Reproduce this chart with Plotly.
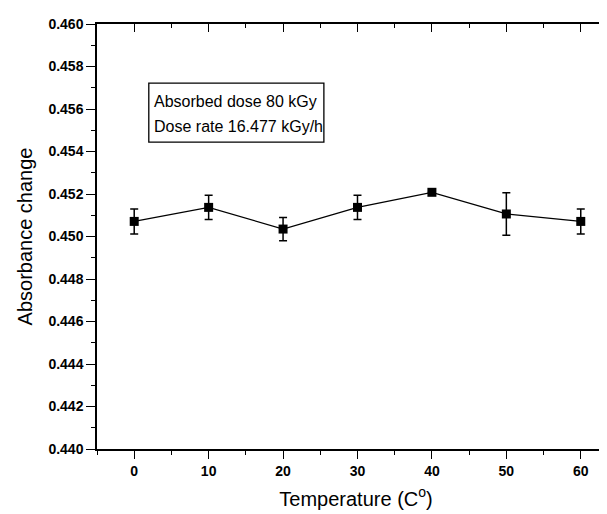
import plotly.graph_objects as go

temperature = [0, 10, 20, 30, 40, 50, 60]
absorbance = [0.45071, 0.45137, 0.45035, 0.45137, 0.45208, 0.45106, 0.45071]
abs_error = [0.00059, 0.00057, 0.00055, 0.00057, 0.0, 0.00100, 0.00059]

info_lines = ['Absorbed dose 80 kGy', 'Dose rate 16.477 kGy/h']

x_range = [-5, 64.6]
y_range = [0.440, 0.460]

fig = go.Figure()
fig.add_trace(go.Scatter(
    x=temperature,
    y=absorbance,
    mode='lines+markers',
    line=dict(color='black', width=1.3),
    marker=dict(symbol='square', size=9, color='black'),
    error_y=dict(type='data', array=abs_error, visible=True,
                 color='black', thickness=1.5, width=4),
    showlegend=False
))

axis_font = dict(family='Liberation Sans, Arial, sans-serif', size=14, color='black', weight='bold')
title_font = dict(family='Liberation Sans, Arial, sans-serif', size=20, color='black')

# the page body has an 8px margin, so the margins are shifted to compensate;
# the right side of the frame runs off the picture like in the original
fig.update_layout(
    width=607, height=514,
    margin=dict(l=89, r=0, t=16, b=73),
    paper_bgcolor='white',
    plot_bgcolor='white',
    xaxis=dict(
        range=x_range, dtick=10, tick0=0, automargin=False,
        ticks='outside', ticklen=8, tickwidth=1.3, tickcolor='black',
        minor=dict(dtick=5, tick0=0, ticks='outside', ticklen=4, tickwidth=1.3, tickcolor='black'),
        showline=True, linecolor='black', linewidth=1.5,
        showgrid=False, zeroline=False,
        tickfont=axis_font,
        title=dict(text='Temperature (C<sup>o</sup>)', font=title_font, standoff=14),
    ),
    xaxis2=dict(
        range=x_range, overlaying='x', side='top', dtick=10, tick0=0, automargin=False,
        ticks='inside', ticklen=8, tickwidth=1.3, tickcolor='black',
        minor=dict(dtick=5, tick0=0, ticks='inside', ticklen=4, tickwidth=1.3, tickcolor='black'),
        showline=True, linecolor='black', linewidth=1.5,
        showticklabels=False, showgrid=False, zeroline=False,
    ),
    yaxis=dict(
        range=y_range, dtick=0.002, tick0=0.44, tickformat='.3f', automargin=False,
        ticks='outside', ticklen=9, tickwidth=1.3, tickcolor='black',
        minor=dict(dtick=0.001, ticks='outside', ticklen=4, tickwidth=1.3, tickcolor='black'),
        showline=True, linecolor='black', linewidth=1.5,
        showgrid=False, zeroline=False,
        tickfont=axis_font,
        title=dict(text='Absorbance change', font=title_font, standoff=10),
    ),
)

# invisible trace so the top axis is drawn
fig.add_trace(go.Scatter(x=[None], y=[None], xaxis='x2', showlegend=False, hoverinfo='skip'))

# info box (paper coords, plot area is now 518px wide)
fig.add_shape(type='rect', xref='paper', yref='paper',
              x0=0.100, x1=0.438, y0=0.722, y1=0.861,
              line=dict(color='black', width=1.3), fillcolor='white', layer='above')
for text, ypos in zip(info_lines, [0.817, 0.758]):
    fig.add_annotation(
        text=text, xref='paper', yref='paper', x=0.106, y=ypos,
        xanchor='left', yanchor='middle', align='left', showarrow=False,
        font=dict(family='Liberation Sans, Arial, sans-serif', size=16, color='black'),
    )

fig.write_html("out.html")
